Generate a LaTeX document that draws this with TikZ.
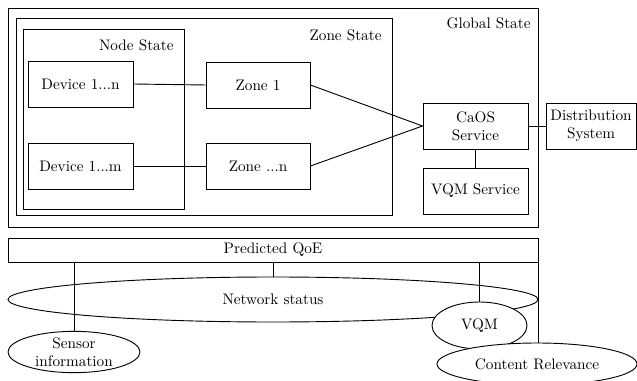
\documentclass[tikz,border=0pt]{standalone}
\usetikzlibrary{shapes.geometric}
\newcommand\pxu{0.656pt}
\begin{document}
\begin{tikzpicture}[x=0.656pt,y=-0.656pt,
  line width=0.6pt,
  sz/.style 2 args={minimum width=#1*\pxu, minimum height=#2*\pxu},
  box/.style={draw, fill=white, inner sep=0pt, align=center},
  oval/.style={draw, fill=white, ellipse, inner sep=0pt, align=center},
  ttl/.style={inner sep=0pt, anchor=east}]
\useasboundingbox (0,0) rectangle (637,381);
% containers
\node[box, sz={530}{219}] (global) at (273,117.5) {};
\node[box, sz={376}{197}] (zonest) at (204,116.5) {};
\node[box, sz={161}{180}] (nodest) at (103.5,119) {};
\node[ttl] (globallbl) at (531,23) {Global State};
\node[ttl] (zonelbl) at (382,35) {Zone State};
\node[ttl] (nodelbl) at (174,45) {Node State};
% boxes
\node[box, sz={105}{46}] (dev1) at (80.5,84) {Device 1...n};
\node[box, sz={105}{46}] (devm) at (80.5,166) {Device 1...m};
\node[box, sz={104}{46}] (zone1) at (258,85) {Zone 1};
\node[box, sz={104}{46}] (zonen) at (258,166) {Zone ...n};
\node[box, sz={105}{46}] (caos) at (475.5,126) {CaOS\\Service};
\node[box, sz={90}{46}] (dist) at (591,126) {Distribution\\System};
\node[box, sz={105}{46}] (vqms) at (475.5,191) {VQM Service};
\draw (dev1.east) -- (zone1.west);
\draw (devm.east) -- (zonen.west);
\draw (zone1.east) -- (caos.west);
\draw (zonen.east) -- (caos.west);
\draw (caos.east) -- (dist.west);
\draw (caos.south) -- (vqms.north);
% bottom
\node[box, sz={530}{24}] (qoe) at (273,250) {Predicted QoE};
\node[oval, sz={530}{45}] (net) at (273,299.5) {Network status};
\node[oval, sz={132}{40}] (sensor) at (74,352) {Sensor\\information};
\draw (sensor.north |- qoe.south) -- (sensor.north);
\draw (qoe.south) -- (net.north);
\node[oval, sz={95}{47}] (vqm) at (479.5,325.5) {VQM};
\node[oval, sz={200}{42}] (cr) at (537,364) {Content Relevance};
\draw (vqm.north |- qoe.south) -- (vqm.north);
\draw (qoe.south east) -- (qoe.south east |- cr.north);
\end{tikzpicture}
\end{document}
